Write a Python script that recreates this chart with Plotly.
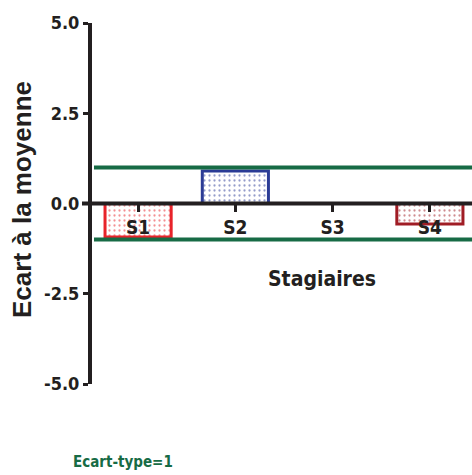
import plotly.graph_objects as go

categories = ["S1", "S2", "S3", "S4"]
values = [-0.93, 0.90, 0.0, -0.57]
bar_colors = ["#e8232a", "#2b3c96", "#2b3c96", "#a01c24"]
y_ticks = [-5, -2.5, 0, 2.5, 5]
y_tick_labels = ["-5.0", "-2.5", "0.0", "2.5", "5.0"]
sd_level = 1

NARROW = "DejaVu Sans Condensed, Liberation Sans Narrow, Arial Narrow, Liberation Sans, Arial"
DARK = "#231f20"
GREEN = "#176b45"

fig = go.Figure()
fig.add_trace(go.Bar(
    x=categories, y=values, width=0.68,
    marker=dict(
        color="white",
        line=dict(color=bar_colors, width=3),
        pattern=dict(shape=".", fgcolor=bar_colors, bgcolor="white",
                     size=5, solidity=0.16, fillmode="overlay"),
    ),
    showlegend=False,
    hoverinfo="skip",
))

W, H = 472, 475
ml, mr, mt, mb = 92, 0, 23, 91
pw = W - ml - mr
ph = H - mt - mb

fig.update_layout(
    width=W, height=H,
    margin=dict(l=ml, r=mr, t=mt, b=mb, autoexpand=False),
    paper_bgcolor="white", plot_bgcolor="white",
    font=dict(family=NARROW, color=DARK),
    xaxis=dict(
        range=[-0.474, 3.433], anchor="free", position=0.5,
        showline=False, showgrid=False, zeroline=False,
        ticks="outside", ticklen=7, tickwidth=3, tickcolor=DARK,
        tickfont=dict(family=NARROW, size=19, color=DARK, weight="bold"),
        automargin=False,
    ),
    yaxis=dict(
        range=[-5, 5], showgrid=False, zeroline=False,
        showline=True, linewidth=4, linecolor=DARK,
        ticks="outside", ticklen=5, tickwidth=3, tickcolor=DARK,
        tickvals=y_ticks, ticktext=y_tick_labels,
        tickfont=dict(family=NARROW, size=18, color=DARK, weight="bold"),
        automargin=False,
    ),
)

# zero line (extends slightly left of the y axis)
fig.add_shape(type="line", xref="paper", yref="y",
              x0=(82 - ml) / pw, x1=1, y0=0, y1=0,
              line=dict(color=DARK, width=4))
# +/- 1 standard deviation lines
for s in (sd_level, -sd_level):
    fig.add_shape(type="line", xref="paper", yref="y",
                  x0=(94 - ml) / pw, x1=1, y0=s, y1=s,
                  line=dict(color=GREEN, width=4))

# y axis title
fig.add_annotation(text="Ecart à la moyenne", xref="paper", yref="paper",
                   x=(22 - ml) / pw, y=(384 - 200) / ph, textangle=-90,
                   xanchor="center", yanchor="middle", showarrow=False,
                   font=dict(family="Liberation Sans, Arial", size=26,
                             color=DARK, weight="bold"))
# x axis title
fig.add_annotation(text="Stagiaires", xref="paper", yref="y",
                   x=(322 - ml) / pw, y=-2.1, showarrow=False,
                   font=dict(family=NARROW, size=21, color=DARK, weight="bold"))
fig.add_annotation(text="Ecart-type=1", xref="paper", yref="paper",
                   x=(71 - ml) / pw, y=(384 - 462) / ph,
                   xanchor="left", yanchor="middle", showarrow=False,
                   font=dict(family=NARROW, size=15, color=GREEN, weight="bold"))

fig.write_html("out.html",
               config={"displayModeBar": False},
               post_script="document.body.style.margin='0';document.body.style.overflow='hidden';")
